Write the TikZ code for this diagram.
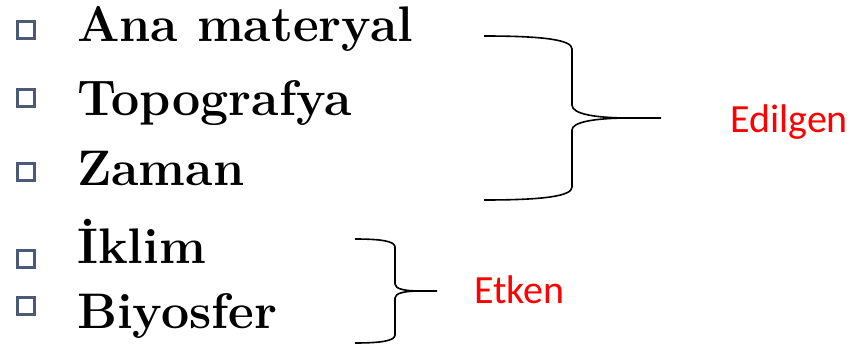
\documentclass[tikz,border=0pt]{standalone}
\usepackage{fontspec}
\newfontfamily\redfont{Carlito}
\definecolor{bulletc}{HTML}{4A5A78}
\definecolor{labred}{HTML}{FF0000}
\begin{document}
\begin{tikzpicture}[x=1pt,y=-1pt,
  item/.style={anchor=base west,inner sep=0pt,font=\fontsize{50}{50}\selectfont\bfseries},
  bul/.style={draw=bulletc,line width=2.2pt,fill=white,minimum size=17pt,inner sep=0pt},
  lab/.style={anchor=base west,inner sep=0pt,text=labred,font=\redfont\fontsize{40}{40}\selectfont},
  brace/.style={draw=black,line width=1.6pt}]
\useasboundingbox (0,0) rectangle (854,353);
\node[bul] (b1) at (26,30) {};
\node[bul] (b2) at (26,98) {};
\node[bul] (b3) at (26,172) {};
\node[bul] (b4) at (26,259) {};
\node[bul] (b5) at (26,306) {};
\node[item] (t1) at (77,42) {Ana materyal};
\node[item] (t2) at (77,115) {Topografya};
\node[item] (t3) at (77,185) {Zaman};
\node[item] (t4) at (77,263) {İklim};
\node[item] (t5) at (77,328) {Biyosfer};
\node[lab] (e1) at (730,132) {Edilgen};
\node[lab] (e2) at (474,303) {Etken};
% brace 1
\draw[brace] (484,36) .. controls (545,36) and (572,40) .. (572,49)
  -- (572,105) .. controls (572,114) and (595,118) .. (630,118) -- (661,118);
\draw[brace] (484,200) .. controls (545,200) and (572,196) .. (572,187)
  -- (572,130) .. controls (572,122) and (595,118) .. (630,118);
% brace 2
\draw[brace] (355,239) .. controls (380,239) and (395,241) .. (395,247)
  -- (395,284) .. controls (395,289) and (405,291) .. (420,291) -- (437,291);
\draw[brace] (355,343) .. controls (380,343) and (395,341) .. (395,335)
  -- (395,298) .. controls (395,293) and (405,291) .. (420,291);
\end{tikzpicture}
\end{document}
